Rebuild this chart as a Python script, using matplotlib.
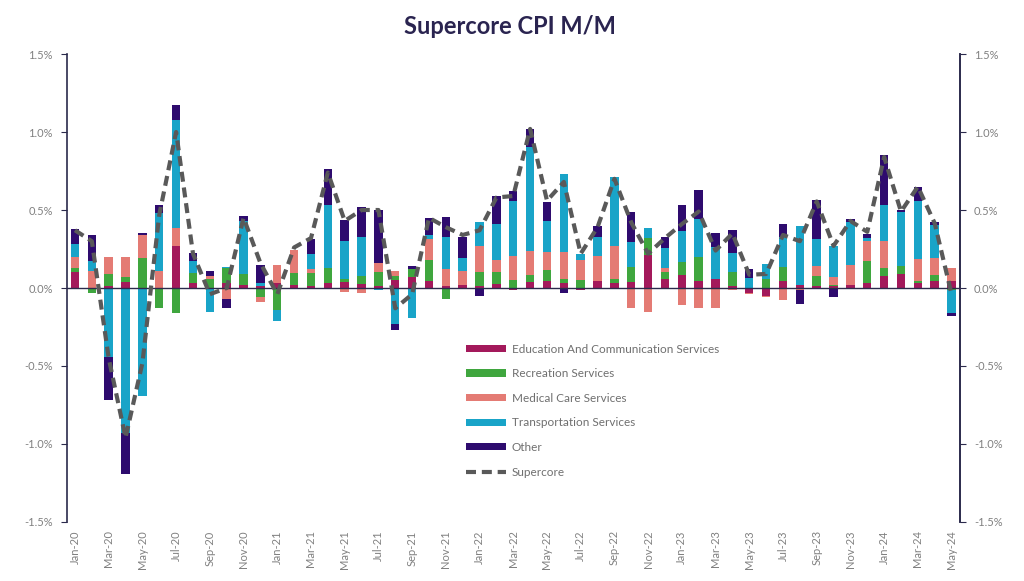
import matplotlib.pyplot as plt
import numpy as np
import pandas as pd

# Monthly data, Jan-20 .. May-24 (contributions in % points)
months = pd.date_range("2020-01-01", "2024-05-01", freq="MS").strftime("%b-%y").tolist()

education = [0.10, 0.00, 0.01, 0.04, 0.00, 0.00, 0.27, 0.03, 0.00, 0.035, 0.02, 0.01, 0.03, 0.02,
             0.01, 0.035, 0.04, 0.025, 0.015, 0.05, 0.07, 0.045, 0.015, 0.02, 0.015, 0.025, -0.015,
             0.04, 0.045, 0.03, -0.01, 0.045, 0.035, 0.04, 0.21, 0.06, 0.085, 0.045, 0.055, 0.015,
             -0.03, -0.05, 0.045, 0.02, 0.015, 0.01, 0.02, 0.03, 0.08, 0.09, 0.035, 0.045, 0.045]
recreation = [0.03, -0.03, 0.08, 0.03, 0.19, -0.13, -0.16, 0.065, 0.055, 0.095, 0.07, -0.06, -0.14,
              0.075, 0.085, 0.095, 0.02, 0.055, 0.09, 0.03, 0.05, 0.135, -0.07, 0.00, 0.085, 0.075,
              0.05, 0.045, 0.07, 0.03, 0.05, 0.00, 0.025, 0.095, 0.11, 0.04, 0.08, 0.155, 0.00, 0.09,
              0.00, 0.055, 0.09, 0.00, 0.065, 0.01, 0.00, 0.14, 0.05, 0.05, 0.01, 0.04, -0.01]
medical = [0.07, 0.11, 0.11, 0.13, 0.15, 0.11, 0.115, 0.00, 0.025, -0.07, 0.00, -0.03, 0.12, 0.15,
           0.03, 0.00, -0.025, -0.03, 0.055, 0.03, 0.00, 0.135, 0.11, 0.09, 0.17, 0.08, 0.155, 0.15,
           0.115, 0.17, 0.13, 0.16, 0.21, -0.13, -0.155, 0.03, -0.11, -0.13, -0.13, -0.015, -0.01,
           -0.01, -0.075, -0.01, 0.06, 0.05, 0.13, 0.13, 0.17, 0.00, 0.14, 0.11, 0.085]
transportation = [0.08, 0.06, -0.44, -0.93, -0.69, 0.37, 0.69, 0.08, -0.155, 0.005, 0.34, 0.02, -0.07,
                  0.00, 0.09, 0.40, 0.24, 0.25, -0.01, -0.23, -0.19, 0.025, 0.20, 0.08, 0.15, 0.23,
                  0.35, 0.67, 0.20, 0.50, 0.04, 0.125, 0.44, 0.16, 0.065, 0.125, 0.20, 0.24, 0.205,
                  0.12, 0.065, 0.10, 0.19, 0.38, 0.175, 0.20, 0.27, 0.02, 0.23, 0.345, 0.37, 0.21, -0.15]
other = [0.10, 0.17, -0.28, -0.26, 0.01, 0.05, 0.10, 0.05, 0.03, -0.06, 0.03, 0.12, 0.00, 0.00,
         0.10, 0.23, 0.135, 0.19, 0.34, -0.04, 0.02, 0.11, 0.13, 0.14, -0.05, 0.18, 0.065, 0.115,
         0.12, -0.03, 0.00, 0.065, 0.00, 0.19, 0.00, 0.07, 0.17, 0.19, 0.095, 0.145, 0.055, 0.00,
         0.085, -0.095, 0.25, -0.06, 0.02, 0.025, 0.32, 0.015, 0.095, 0.02, -0.02]
supercore = [0.37, 0.30, -0.45, -0.96, -0.48, 0.47, 1.00, 0.22, -0.04, 0.00, 0.45, 0.16, -0.04, 0.26,
             0.32, 0.74, 0.43, 0.50, 0.50, -0.13, -0.04, 0.45, 0.39, 0.34, 0.37, 0.58, 0.59, 1.02,
             0.56, 0.68, 0.22, 0.39, 0.70, 0.42, 0.22, 0.32, 0.41, 0.49, 0.24, 0.35, 0.085, 0.09,
             0.34, 0.30, 0.555, 0.27, 0.43, 0.36, 0.84, 0.49, 0.65, 0.415, -0.04]

series = [("Education And Communication Services", education, "#a3195b"),
          ("Recreation Services", recreation, "#3fa63e"),
          ("Medical Care Services", medical, "#e47b74"),
          ("Transportation Services", transportation, "#19a4c8"),
          ("Other", other, "#2e0b6e")]

plt.rcParams['font.family'] = ['Lato', 'DejaVu Sans']
navy = "#2b2a4c"
grey = "#808080"

fig = plt.figure(figsize=(10.24, 5.81), dpi=100)
ax = fig.add_axes([0.065, 0.1016, 0.8725, 0.8054])

x = np.arange(len(months))
pos_base = np.zeros(len(months))
neg_base = np.zeros(len(months))
handles = []
for name, vals, col in series:
    v = np.array(vals)
    vp = np.where(v > 0, v, 0)
    vn = np.where(v < 0, v, 0)
    h = ax.bar(x, vp, 0.5, bottom=pos_base, color=col, label=name)
    ax.bar(x, vn, 0.5, bottom=neg_base, color=col)
    handles.append(h)
    pos_base += vp
    neg_base += vn

ln, = ax.plot(x, supercore, color="#595959", lw=3, linestyle=(0, (2.4, 1.4)), label="Supercore",
              zorder=4)
handles.append(ln)
ax.axhline(0, color=navy, lw=1.0, zorder=3)

ax.set_xlim(-0.5, len(months) - 0.5)
ax.set_ylim(-1.5, 1.5)
yt = np.arange(-1.5, 1.51, 0.5)
ax.set_yticks(yt)
ax.set_yticklabels([f"{t:.1f}%" for t in yt])
ax.set_xticks(x[::2])
ax.set_xticklabels(months[::2], rotation=90)
ax.tick_params(axis="x", length=0, colors=grey, labelsize=8, pad=6)
ax.tick_params(axis="y", length=4, color=navy, labelcolor=grey, labelsize=8, pad=6)
for s in ["top", "bottom"]:
    ax.spines[s].set_visible(False)
ax.spines["left"].set_color(navy)
ax.spines["right"].set_color(navy)
ax.spines["left"].set_linewidth(1.2)
ax.spines["right"].set_linewidth(1.2)

ax2 = ax.twinx()
ax2.set_ylim(-1.5, 1.5)
ax2.set_yticks(yt)
ax2.set_yticklabels([f"{t:.1f}%" for t in yt])
ax2.tick_params(axis="y", length=4, color=navy, labelcolor=grey, labelsize=8, pad=6)
for s in ["top", "bottom", "left"]:
    ax2.spines[s].set_visible(False)
ax2.spines["right"].set_color(navy)
ax2.spines["right"].set_linewidth(1.2)

leg = ax.legend(handles=handles, loc="upper left", bbox_to_anchor=(455 / 1024, 1 - 333 / 581),
                bbox_transform=fig.transFigure, frameon=False, fontsize=8.5,
                labelspacing=1.15, handlelength=3.4, handleheight=0.55, handletextpad=0.5)
for t in leg.get_texts():
    t.set_color("#6f6f6f")

fig.text(0.498, 0.955, "Supercore CPI M/M", ha="center", va="center",
         fontsize=17, fontweight="bold", color="#2a2450")

plt.savefig("out.png", dpi=100)
